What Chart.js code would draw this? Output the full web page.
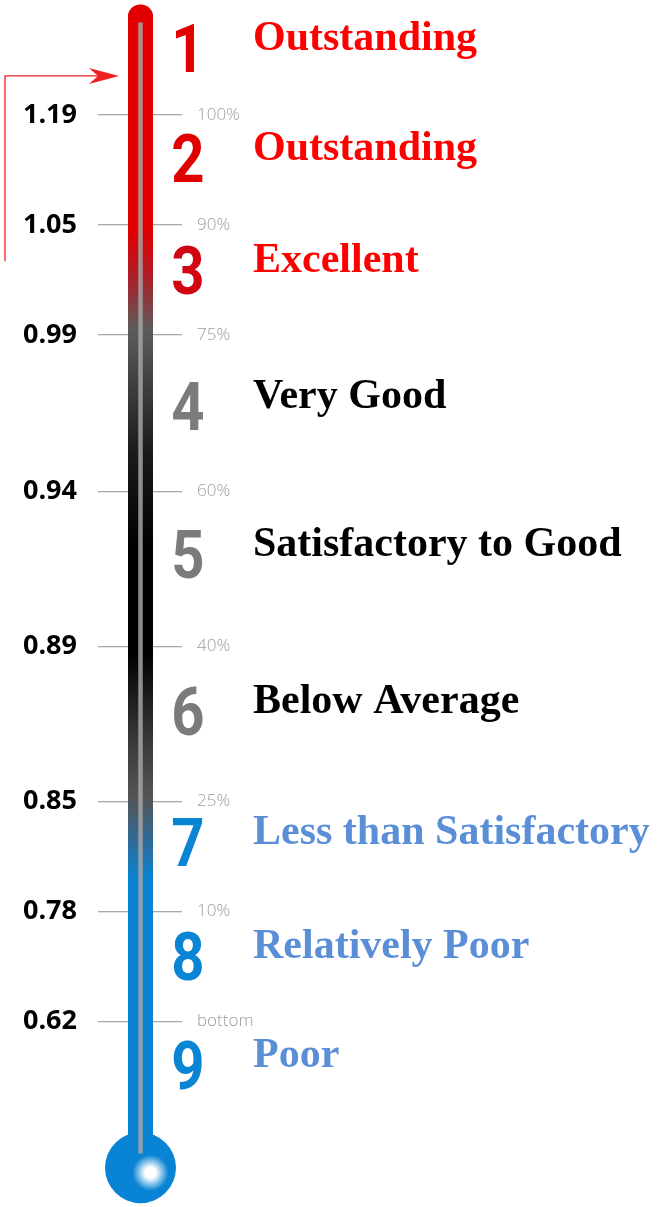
<!DOCTYPE html>
<html>
<head>
<meta charset="utf-8">
<script src="https://cdn.jsdelivr.net/npm/chart.js@4/dist/chart.umd.min.js"></script>
<style>
  html, body { margin: 0; padding: 0; background: #fff; }
  canvas { display: block; }
</style>
</head>
<body>
<canvas id="thermo" width="664" height="1207"></canvas>
<script>
// levels of the rating scale, top to bottom
const levelNums = ['1', '2', '3', '4', '5', '6', '7', '8', '9'];
const levelNames = ['Outstanding', 'Outstanding', 'Excellent', 'Very Good', 'Satisfactory to Good',
  'Below Average', 'Less than Satisfactory', 'Relatively Poor', 'Poor'];
// where each level sits on the thermometer scale (1 step = gap between 1.19 and 1.05)
const levelPos = [-0.6, 0.4, 1.41, 2.65, 4.0, 5.42, 6.61, 7.65, 8.64];

// tick marks of the thermometer
const tickLabels = ['1.19', '1.05', '0.99', '0.94', '0.89', '0.85', '0.78', '0.62'];
const pctLabels = ['100%', '90%', '75%', '60%', '40%', '25%', '10%', 'bottom'];
const tickPos = [0, 1, 2, 3.42, 4.83, 6.24, 7.24, 8.24];

// tube, mercury column and bulb on the same scale
const tube = [9.57, -1.0];
const mercury = [9.44, -0.84];
const bulb = 9.57;
const arrowPos = [-0.355, 1.33];

const scaleMin = -1.045, scaleMax = 9.927;

const numColors = ['#e00000', '#e00000', '#d00612', '#7b7b7b', '#7b7b7b', '#7b7b7b', '#0a84d4', '#0a84d4', '#0a84d4'];
const nameColors = ['#ff0000', '#ff0000', '#ff0000', '#000', '#000', '#000', '#5a8fd8', '#5a8fd8', '#5a8fd8'];
const tubeStops = [[-1.05, '#e00000'], [1.05, '#e00000'], [1.45, '#b01c24'], [1.95, '#5c5c5c'],
  [3.1, '#1a1a1a'], [3.9, '#000'], [4.9, '#000'], [5.6, '#333'], [6.2, '#555'],
  [6.6, '#2f6b97'], [6.95, '#0984d4'], [9.93, '#0984d4']];

function tubeGradient(c) {
  const chart = c.chart;
  const area = chart.chartArea;
  const y = chart.scales.y;
  if (!area || !y) return '#e00000';
  const g = chart.ctx.createLinearGradient(0, area.top, 0, area.bottom);
  tubeStops.forEach(function(s) {
    let p = (y.getPixelForValue(s[0]) - area.top) / (area.bottom - area.top);
    g.addColorStop(Math.min(1, Math.max(0, p)), s[1]);
  });
  return g;
}

function bulbGradient(c) {
  const chart = c.chart;
  if (!chart.chartArea) return '#0984d4';
  const cx = chart.scales.x.getPixelForValue(0) + 10;
  const cy = chart.scales.y.getPixelForValue(bulb) + 5;
  const g = chart.ctx.createRadialGradient(cx, cy, 0, cx, cy, 18);
  g.addColorStop(0, '#fff');
  g.addColorStop(0.3, '#fff');
  g.addColorStop(1, '#0984d4');
  return g;
}

function fixAxis(width) {
  return function(scale) {
    scale.width = width;
    scale.paddingTop = 0;
    scale.paddingBottom = 0;
  };
}

function useTicks(scale) {
  scale.ticks = tickPos.map(v => ({ value: v }));
}

const labelsPlugin = {
  id: 'levels',
  afterDatasetsDraw(chart) {
    const ctx = chart.ctx;
    const y = chart.scales.y;
    const right = chart.chartArea.right;
    ctx.save();
    levelNums.forEach(function(n, i) {
      const cy = y.getPixelForValue(levelPos[i]);
      // big level number
      ctx.save();
      ctx.translate(right + 35, cy + 23.5);
      ctx.scale(0.88, 1);
      ctx.font = 'bold 66px Roboto';
      ctx.fillStyle = numColors[i];
      ctx.textAlign = 'center';
      ctx.textBaseline = 'alphabetic';
      ctx.fillText(n, 0, 0);
      ctx.restore();
      // level name
      ctx.font = 'bold 42px "Liberation Serif"';
      ctx.fillStyle = nameColors[i];
      ctx.textAlign = 'left';
      ctx.textBaseline = 'alphabetic';
      ctx.fillText(levelNames[i], right + 100, cy + 1.5);
    });

    // red pointer arrow
    const ay = y.getPixelForValue(arrowPos[0]);
    const by = y.getPixelForValue(arrowPos[1]);
    const tip = chart.chartArea.left - 9;
    ctx.strokeStyle = '#f02020';
    ctx.lineWidth = 1.3;
    ctx.beginPath();
    ctx.moveTo(5, by);
    ctx.lineTo(5, ay);
    ctx.lineTo(tip - 18, ay);
    ctx.stroke();
    ctx.fillStyle = '#f02020';
    ctx.beginPath();
    ctx.moveTo(tip, ay);
    ctx.lineTo(tip - 30, ay - 8);
    ctx.lineTo(tip - 21, ay);
    ctx.lineTo(tip - 30, ay + 8);
    ctx.closePath();
    ctx.fill();
    ctx.restore();
  }
};

const ctx = document.getElementById('thermo').getContext('2d');
const chart = new Chart(ctx, {
  type: 'bar',
  data: {
    labels: [''],
    datasets: [{
      label: 'tube',
      data: [tube],
      backgroundColor: tubeGradient,
      borderRadius: 13,
      borderSkipped: false,
      barPercentage: 1,
      categoryPercentage: 1,
      grouped: false,
      order: 3
    }, {
      type: 'line',
      label: 'bulb',
      data: [bulb],
      showLine: false,
      pointRadius: 35.5,
      pointHoverRadius: 35.5,
      pointBorderWidth: 0,
      pointBackgroundColor: bulbGradient,
      clip: false,
      order: 2
    }, {
      label: 'mercury',
      data: [mercury],
      backgroundColor: 'rgba(165, 165, 165, 0.85)',
      barPercentage: 0.18,
      categoryPercentage: 1,
      grouped: false,
      clip: false,
      order: 1
    }]
  },
  options: {
    responsive: false,
    animation: false,
    events: [],
    layout: { padding: 0, autoPadding: false },
    plugins: {
      legend: { display: false },
      tooltip: { enabled: false }
    },
    scales: {
      x: { display: false },
      y: {
        position: 'left',
        reverse: true,
        min: scaleMin,
        max: scaleMax,
        afterBuildTicks: useTicks,
        afterFit: fixAxis(128),
        border: { display: false },
        grid: { drawOnChartArea: false, drawTicks: true, tickLength: 30, color: '#a8a8a8', lineWidth: 1.3 },
        ticks: {
          callback: (v, i) => tickLabels[i],
          color: '#000',
          padding: 21,
          font: { family: 'Open Sans', weight: 'bold', size: 27 }
        }
      },
      y2: {
        position: 'right',
        reverse: true,
        min: scaleMin,
        max: scaleMax,
        afterBuildTicks: useTicks,
        afterFit: fixAxis(511),
        border: { display: false },
        grid: { drawOnChartArea: false, drawTicks: true, tickLength: 29, color: '#a8a8a8', lineWidth: 1.3 },
        ticks: {
          callback: (v, i) => pctLabels[i],
          color: '#9c9c9c',
          padding: 15,
          font: { family: 'Open Sans', weight: '300', size: 17 }
        }
      }
    }
  },
  plugins: [labelsPlugin]
});
</script>
</body>
</html>
